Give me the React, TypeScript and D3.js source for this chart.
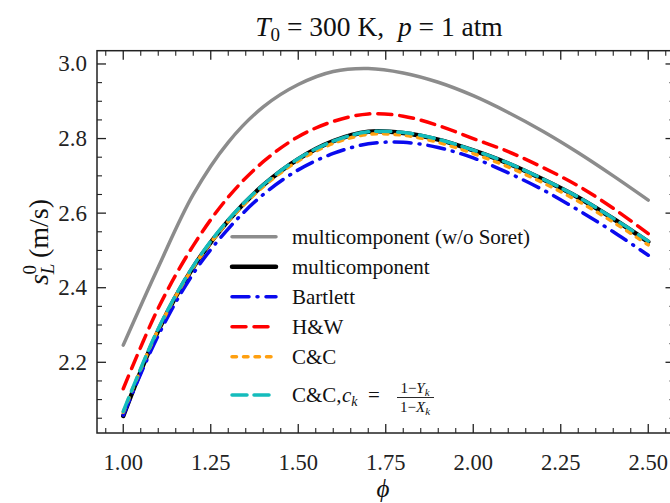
import React from "react";
import * as d3 from "d3";

// equivalence ratio samples
const phi = [1.0, 1.1, 1.2, 1.3, 1.4, 1.5, 1.6, 1.7, 1.8, 1.9, 2.0, 2.1, 2.2, 2.3, 2.4, 2.5];

// laminar flame speed s_L^0 (m/s)
const multiNoSoret = [2.246, 2.455, 2.65, 2.79, 2.885, 2.945, 2.98, 2.988, 2.976, 2.951, 2.915, 2.87, 2.819, 2.762, 2.7, 2.635];
const multi = [2.056, 2.285, 2.455, 2.58, 2.675, 2.745, 2.793, 2.818, 2.815, 2.797, 2.768, 2.733, 2.69, 2.642, 2.585, 2.523];
const bartlett = [2.058, 2.272, 2.438, 2.558, 2.65, 2.716, 2.76, 2.786, 2.79, 2.776, 2.748, 2.708, 2.662, 2.608, 2.55, 2.487];
const hw = [2.129, 2.345, 2.513, 2.643, 2.738, 2.805, 2.846, 2.866, 2.86, 2.835, 2.8, 2.765, 2.722, 2.673, 2.613, 2.545];
const cc = [2.066, 2.288, 2.455, 2.578, 2.671, 2.74, 2.787, 2.811, 2.809, 2.79, 2.76, 2.724, 2.681, 2.632, 2.576, 2.515];
const ccMod = [2.068, 2.29, 2.458, 2.582, 2.676, 2.746, 2.793, 2.818, 2.816, 2.798, 2.769, 2.734, 2.691, 2.643, 2.586, 2.525];

const xTicks = [1.0, 1.25, 1.5, 1.75, 2.0, 2.25, 2.5];
const yTicks = [2.2, 2.4, 2.6, 2.8, 3.0];

const ff = { fontFamily: "Liberation Serif" };

const series = [
  { key: "gray", values: multiNoSoret, color: "#8c8c8c", width: 3.5, dash: "", label: "multicomponent (w/o Soret)" },
  { key: "black", values: multi, color: "#000000", width: 4.5, dash: "", label: "multicomponent" },
  { key: "blue", values: bartlett, color: "#0a0aee", width: 3.5, dash: "17 8 1 8", label: "Bartlett" },
  { key: "red", values: hw, color: "#ff0000", width: 3.5, dash: "14 8", label: "H&W" },
  { key: "orange", values: cc, color: "#ffa010", width: 3.5, dash: "4.5 7", label: "C&C" },
  { key: "cyan", values: ccMod, color: "#14bcbc", width: 3.5, dash: "15 7", label: "" },
];

export default function App() {
  const x = d3.scaleLinear().domain([0.925, 2.575]).range([97, 674.5]);
  const y = d3.scaleLinear().domain([2.0104, 3.0356]).range([433, 50.7]);
  const [x0, x1] = x.range();
  const [y0, y1] = y.range();

  const line = d3
    .line<number>()
    .x((d, i) => x(phi[i]))
    .y(d => y(d))
    .curve(d3.curveCatmullRom.alpha(0.5));

  const xMinor = d3.range(0.95, 2.576, 0.05).filter(v => !xTicks.some(t => Math.abs(t - v) < 1e-6));
  const yMinor = d3.range(2.05, 3.036, 0.05).filter(v => !yTicks.some(t => Math.abs(t - v) < 1e-6));

  const legendRows = [236.7, 266.7, 296.7, 326.7, 356.7, 395];
  const lx0 = 232;
  const lx1 = 276;
  const tx = 292;

  return (
    <div style={{ position: "absolute", left: 0, top: 0 }}>
      <svg width={670} height={503} style={{ display: "block", background: "#fff" }}>
        {/* curves */}
        {series.map(s => (
          <path
            key={s.key}
            d={line(s.values) || ""}
            fill="none"
            stroke={s.color}
            strokeWidth={s.width}
            strokeDasharray={s.dash || undefined}
            strokeLinecap="round"
            strokeLinejoin="round"
          />
        ))}

        {/* frame */}
        <rect x={x0} y={y1} width={x1 - x0} height={y0 - y1} fill="none" stroke="#222" strokeWidth={1.5} />

        {/* x ticks, bottom and top */}
        {xTicks.map(t => (
          <g key={"xt" + t}>
            <line x1={x(t)} x2={x(t)} y1={y0} y2={y0 - 9} stroke="#222" strokeWidth={1.3} />
            <line x1={x(t)} x2={x(t)} y1={y1} y2={y1 + 9} stroke="#222" strokeWidth={1.3} />
            <text x={x(t)} y={469.5} textAnchor="middle" fontSize={22.5} fill="#222" style={ff}>
              {t.toFixed(2)}
            </text>
          </g>
        ))}
        {xMinor.map(t => (
          <g key={"xm" + t}>
            <line x1={x(t)} x2={x(t)} y1={y0} y2={y0 - 5} stroke="#222" strokeWidth={1.1} />
            <line x1={x(t)} x2={x(t)} y1={y1} y2={y1 + 5} stroke="#222" strokeWidth={1.1} />
          </g>
        ))}

        {/* y ticks, left and right */}
        {yTicks.map(t => (
          <g key={"yt" + t}>
            <line x1={x0} x2={x0 + 9} y1={y(t)} y2={y(t)} stroke="#222" strokeWidth={1.3} />
            <line x1={x1} x2={x1 - 9} y1={y(t)} y2={y(t)} stroke="#222" strokeWidth={1.3} />
            <text x={87} y={y(t) + 7.5} textAnchor="end" fontSize={23} fill="#222" style={ff}>
              {t.toFixed(1)}
            </text>
          </g>
        ))}
        {yMinor.map(t => (
          <g key={"ym" + t}>
            <line x1={x0} x2={x0 + 5} y1={y(t)} y2={y(t)} stroke="#222" strokeWidth={1.1} />
            <line x1={x1} x2={x1 - 5} y1={y(t)} y2={y(t)} stroke="#222" strokeWidth={1.1} />
          </g>
        ))}

        {/* title */}
        <text x={379} y={36} textAnchor="middle" fontSize={27.5} fill="#111" xmlSpace="preserve" style={ff}>
          <tspan fontStyle="italic">T</tspan>
          <tspan fontSize={19} dy={5}>0</tspan>
          <tspan dy={-5}>{" = 300 K,  "}</tspan>
          <tspan fontStyle="italic">p</tspan>
          <tspan>{" = 1 atm"}</tspan>
        </text>

        {/* axis labels */}
        <text x={383} y={497} textAnchor="middle" fontSize={25} fontStyle="italic" fill="#111" style={ff}>
          ϕ
        </text>
        <text transform="translate(48,242) rotate(-90)" textAnchor="middle" fontSize={28} fill="#111" style={ff}>
          <tspan fontStyle="italic">s</tspan>
          <tspan fontSize={19} fontStyle="italic" dy={6}>L</tspan>
          <tspan fontSize={19} dx={-11} dy={-18}>0</tspan>
          <tspan dy={12}> (m/s)</tspan>
        </text>

        {/* legend */}
        {series.map((s, i) => (
          <g key={"lg" + s.key}>
            <line
              x1={lx0}
              x2={lx1}
              y1={legendRows[i]}
              y2={legendRows[i]}
              stroke={s.color}
              strokeWidth={s.width}
              strokeDasharray={s.dash || undefined}
              strokeLinecap="round"
            />
            {s.label && (
              <text x={tx} y={legendRows[i] + 7} fontSize={21} fill="#111" style={ff}>
                {s.label}
              </text>
            )}
          </g>
        ))}
        <g fill="#111">
          <text x={tx} y={legendRows[5] + 7} fontSize={21} style={ff}>
            C&amp;C,
          </text>
          <text x={342} y={legendRows[5] + 7} fontSize={21} xmlSpace="preserve" style={ff}>
            <tspan fontStyle="italic">c</tspan>
            <tspan fontSize={14} fontStyle="italic" dy={4}>k</tspan>
            <tspan dy={-4}>{"  ="}</tspan>
          </text>
          <text x={415} y={legendRows[5] - 2} fontSize={15} textAnchor="middle" style={ff}>
            1−<tspan fontStyle="italic">Y</tspan>
            <tspan fontSize={11} fontStyle="italic" dy={3}>k</tspan>
          </text>
          <line x1={397} x2={434} y1={legendRows[5] + 2.5} y2={legendRows[5] + 2.5} stroke="#111" strokeWidth={0.9} />
          <text x={415} y={legendRows[5] + 17} fontSize={15} textAnchor="middle" style={ff}>
            1−<tspan fontStyle="italic">X</tspan>
            <tspan fontSize={11} fontStyle="italic" dy={3}>k</tspan>
          </text>
        </g>
      </svg>
    </div>
  );
}
